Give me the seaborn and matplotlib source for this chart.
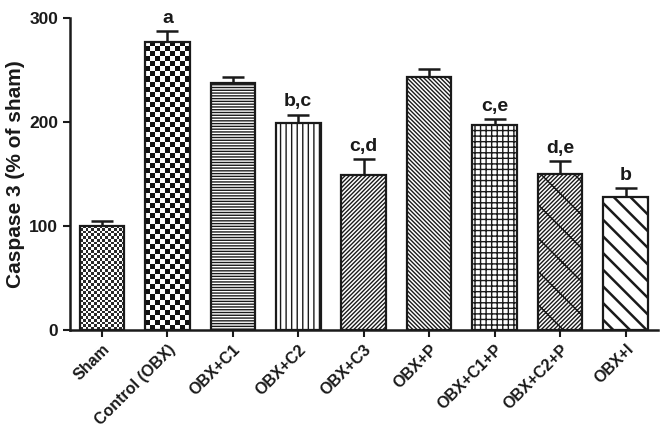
import numpy as np
import seaborn as sns
import matplotlib.pyplot as plt

groups = ['Sham', 'Control (OBX)', 'OBX+C1', 'OBX+C2', 'OBX+C3',
          'OBX+P', 'OBX+C1+P', 'OBX+C2+P', 'OBX+I']
means = [100, 277, 237, 199, 149, 243, 197, 150, 128]
sems = [5, 10, 6, 8, 15, 8, 6, 12, 8]
letters = ['', 'a', '', 'b,c', 'c,d', '', 'c,e', 'd,e', 'b']

sns.set_style('ticks')
plt.rcParams['font.family'] = ['Liberation Sans', 'DejaVu Sans']
plt.rcParams['font.weight'] = 'bold'

fig = plt.figure(figsize=(6.65, 4.34), dpi=100)
ax = fig.add_axes([0.105, 0.240, 0.884, 0.719])

sns.barplot(x=groups, y=means, color='white', edgecolor='#1a1a1a',
            linewidth=1.6, width=0.68, saturation=1, ax=ax, zorder=3)

# error bars, upper side only
ax.errorbar(range(len(groups)), means, yerr=[np.zeros(len(sems)), sems],
            fmt='none', ecolor='#1a1a1a', elinewidth=1.8, capsize=8,
            capthick=1.8, zorder=2)

hatches = [None, None, '------', '|||', '////////', '\\\\\\\\\\\\\\\\',
           '+++', '////////\\', '\\\\']
bars = ax.patches[:len(groups)]
for bar, h in zip(bars, hatches):
    if h:
        bar.set_hatch(h)
        bar.set_hatch_linewidth(1.0 if h != '\\\\' else 1.8)

# checkerboard fills for sham and control, clipped to the bar
def checker(bar, ncols, cell_h, dark, light):
    x0, w, h = bar.get_x(), bar.get_width(), bar.get_height()
    nrows = max(1, int(round(h / cell_h)))
    grid = (np.indices((nrows, ncols)).sum(axis=0) % 2).astype(float)
    cmap = plt.matplotlib.colors.ListedColormap([light, dark])
    bar.set_facecolor('none')
    im = ax.imshow(grid, extent=[x0, x0 + w, 0, h], cmap=cmap,
                   interpolation='nearest', aspect='auto', zorder=2.9)
    im.set_clip_path(bar)

checker(bars[0], 16, 2.6, '#2a2a2a', 'white')
checker(bars[1], 9, 4.9, '#111111', 'white')

for i, t in enumerate(letters):
    if t:
        ax.text(i, means[i] + sems[i] + 4, t, ha='center', va='bottom',
                fontsize=14, fontweight='bold', color='#1a1a1a')

ax.set_xlim(-0.49, 8.49)
ax.set_ylim(0, 300)
ax.set_yticks([0, 100, 200, 300])
ax.set_ylabel('Caspase 3 (% of sham)', fontsize=15, fontweight='bold',
              color='#1a1a1a', labelpad=3)
ax.set_xlabel('')
sns.despine(ax=ax)
for s in ['left', 'bottom']:
    ax.spines[s].set_linewidth(1.8)
    ax.spines[s].set_color('#1a1a1a')
ax.tick_params(width=1.5, length=5, colors='#1a1a1a')
ax.tick_params(axis='y', labelsize=12.5)
ax.tick_params(axis='x', labelsize=11.5)
plt.setp(ax.get_xticklabels(), rotation=45, ha='right',
         rotation_mode='anchor', fontweight='bold')
plt.setp(ax.get_yticklabels(), fontweight='bold')

fig.savefig('out.png', dpi=100)
